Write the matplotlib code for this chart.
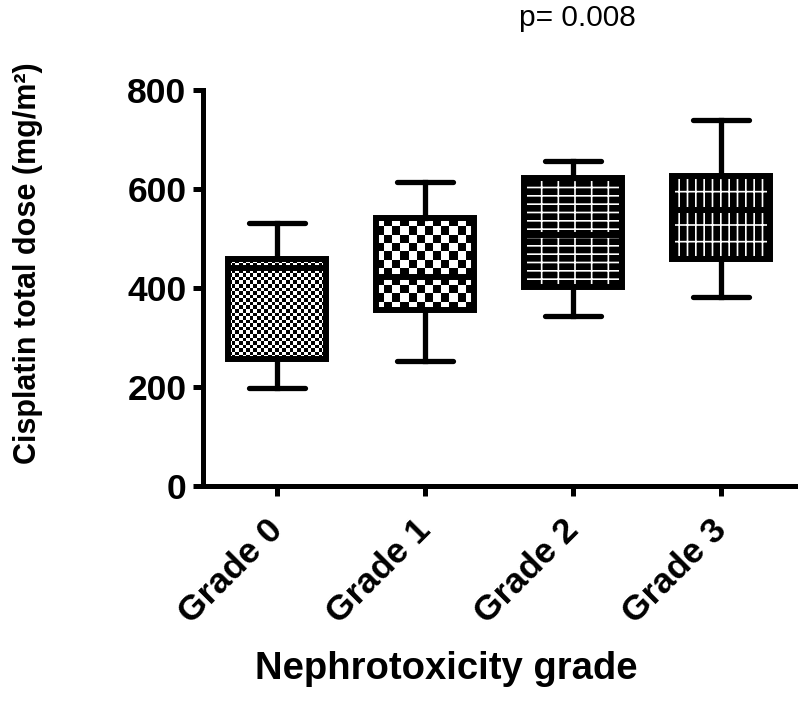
import numpy as np
import matplotlib
matplotlib.use('Agg')
import matplotlib.pyplot as plt
from matplotlib.patches import PathPatch

# values (mg/m2)
grades = ['Grade 0', 'Grade 1', 'Grade 2', 'Grade 3']
whisker_low = [197, 253, 343, 382]
q1 = [257, 355, 402, 459]
median = [440, 422, 507, 558]
q3 = [458, 540, 622, 626]
whisker_high = [530, 613, 657, 739]
y_ticks = [0, 200, 400, 600, 800]
p_text = 'p= 0.008'

plt.rcParams['font.family'] = ['Liberation Sans', 'DejaVu Sans']
plt.rcParams['hatch.linewidth'] = 1.2

fig = plt.figure(figsize=(8, 7.01), dpi=100)
ax = fig.add_axes([0.254, 0.307, 0.740, 0.565])

stats = []
for i, g in enumerate(grades):
    stats.append(dict(label=g, whislo=whisker_low[i], q1=q1[i], med=median[i],
                      q3=q3[i], whishi=whisker_high[i], fliers=[]))

positions = np.arange(len(grades))
box_w = 0.66
res = ax.bxp(stats, positions=positions, widths=box_w, capwidths=0.38,
             patch_artist=True, showfliers=False,
             boxprops=dict(facecolor='none', edgecolor='black', linewidth=4.3, zorder=3),
             whiskerprops=dict(color='black', linewidth=3.8, zorder=2),
             capprops=dict(color='black', linewidth=3.8, solid_capstyle='round', zorder=2),
             medianprops=dict(color='black', linewidth=4.3, zorder=4))

ax.set_xlim(-0.5, 3.5)
ax.set_ylim(0, 800)

# fill textures: checkerboards for grade 0 / 1, white line hatch on black for 2 / 3
check_px = [3.6, 8]
hatches = {2: '--|', 3: '||-'}
for i, box in enumerate(res['boxes']):
    if i in hatches:
        fill = PathPatch(box.get_path(), facecolor='black', edgecolor='white',
                         hatch=hatches[i], linewidth=0, zorder=1.5)
        ax.add_patch(fill)
        continue
    x0, x1 = positions[i] - box_w / 2, positions[i] + box_w / 2
    (px0, py0), (px1, py1) = ax.transData.transform([(x0, q1[i]), (x1, q3[i])])
    nx = max(1, int(round((px1 - px0) / check_px[i])))
    ny = max(1, int(round((py1 - py0) / check_px[i])))
    board = np.add.outer(np.arange(ny), np.arange(nx)) % 2
    im = ax.imshow(board, extent=(x0, x1, q1[i], q3[i]), origin='lower',
                   cmap='gray_r', interpolation='nearest', aspect='auto',
                   vmin=0, vmax=1, zorder=1.5)
    im.set_clip_path(box)

ax.set_xlim(-0.5, 3.5)
ax.set_ylim(0, 800)
ax.set_yticks(y_ticks)
ax.set_xticks(positions)
ax.set_xticklabels(grades, rotation=45, ha='right', va='center', rotation_mode='anchor')

for s in ['top', 'right']:
    ax.spines[s].set_visible(False)
for s in ['left', 'bottom']:
    ax.spines[s].set_linewidth(3.6)

ax.tick_params(axis='both', direction='out', length=7, width=3.6, labelsize=25.5, pad=5)
ax.tick_params(axis='x', pad=21)
for lab in ax.get_xticklabels() + ax.get_yticklabels():
    lab.set_fontweight('bold')

ax.set_ylabel('Cisplatin total dose (mg/m\u00b2)', fontsize=22, fontweight='bold',
              va='center')
ax.yaxis.set_label_coords(-0.296, 0.563)
ax.set_xlabel('Nephrotoxicity grade', fontsize=27.5, fontweight='bold', va='center')
ax.xaxis.set_label_coords(0.41, -0.462)

fig.text(577 / 800, 1 - 18 / 701, p_text, fontsize=21.5, ha='center', va='center')

fig.savefig('out.png', dpi=100)
